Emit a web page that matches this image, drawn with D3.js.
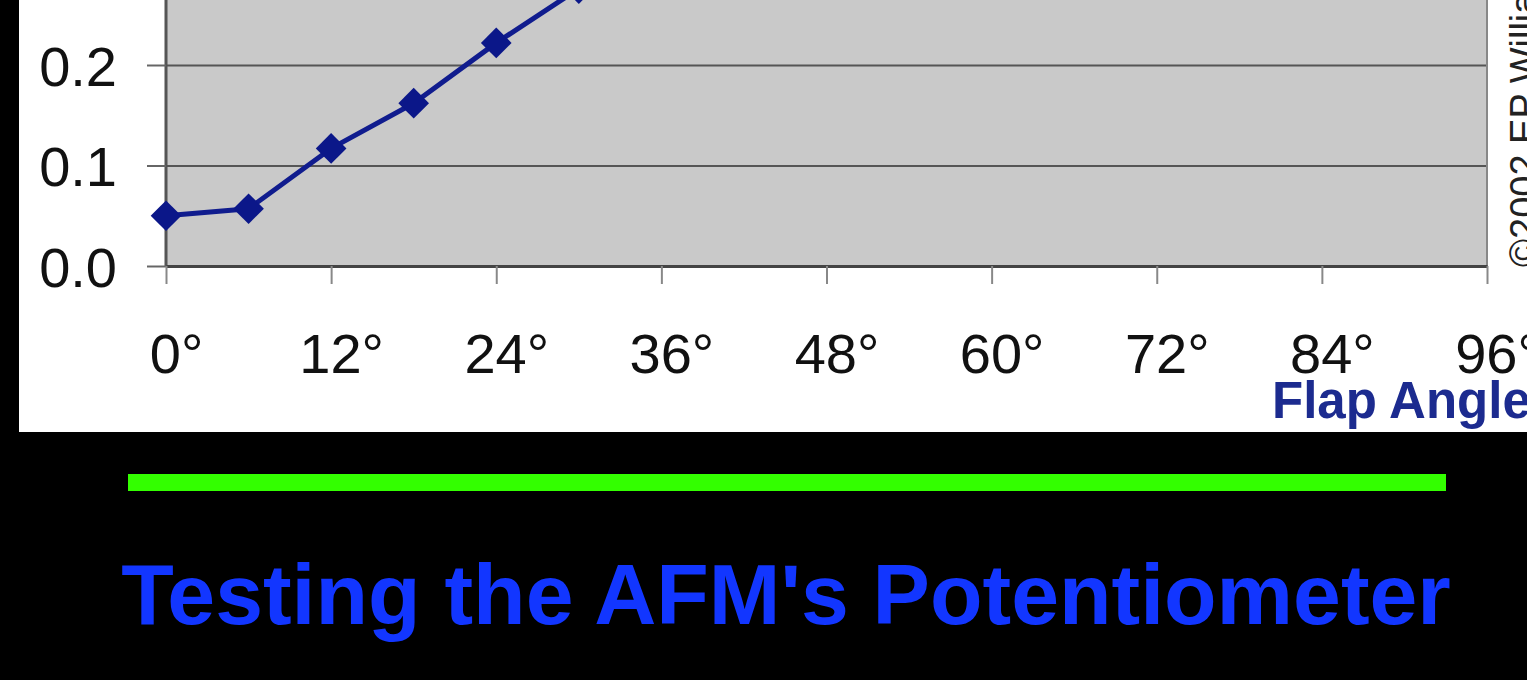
<!DOCTYPE html>
<html>
<head>
<meta charset="utf-8">
<script src="https://cdn.jsdelivr.net/npm/d3@7"></script>
<style>
  html, body { margin: 0; padding: 0; background: #000; }
  svg { display: block; font-family: "Liberation Sans", Arial, sans-serif; }
  .axis text { fill: #111; }
</style>
</head>
<body>
<div id="chart"></div>
<script>
const angles = [0, 6, 12, 18, 24, 30];
const readings = [0.05, 0.057, 0.117, 0.162, 0.222, 0.276];
const xTicks = [0, 12, 24, 36, 48, 60, 72, 84, 96];
const yTicks = [0, 0.1, 0.2];
const xTitle = "Flap Angle";
const credit = "\u00a92002  EP Williams";
const slideTitle = "Testing the AFM's Potentiometer";

const width = 1527, height = 680;
const plot = { left: 166, right: 1487, bottom: 266 };
const navy = "#101c8e";

const svg = d3.select("#chart").append("svg")
  .attr("width", width).attr("height", height);

svg.append("rect").attr("width", width).attr("height", height).attr("fill", "#000");
// white chart panel
svg.append("rect").attr("x", 19).attr("y", -10).attr("width", width).attr("height", 442).attr("fill", "#fff");

const x = d3.scaleLinear().domain([0, 96]).range([plot.left, plot.right]);
const y = d3.scaleLinear().domain([0, 0.1]).range([plot.bottom, plot.bottom - 100.5]);
const yTop = 0.3;

svg.append("rect")
  .attr("x", x(0)).attr("y", y(yTop))
  .attr("width", x(96) - x(0)).attr("height", y(0) - y(yTop))
  .attr("fill", "#c9c9c9");

// gridlines
const grid = svg.append("g")
  .attr("transform", `translate(${x(0)},0)`)
  .call(d3.axisLeft(y).tickValues(yTicks.slice(1)).tickSize(-(x(96) - x(0))).tickFormat(""));
grid.select(".domain").remove();
grid.selectAll("line").attr("stroke", "#555").attr("stroke-width", 2);

// right border of plot
svg.append("line")
  .attr("x1", x(96)).attr("x2", x(96)).attr("y1", y(yTop)).attr("y2", y(0))
  .attr("stroke", "#888").attr("stroke-width", 2);

// y axis
const yAxis = svg.append("g").attr("class", "axis")
  .attr("transform", `translate(${x(0)},0)`)
  .call(d3.axisLeft(y).tickValues(yTicks).tickSize(19).tickPadding(30).tickSizeOuter(0).tickFormat(d3.format(".1f")));
yAxis.select(".domain").attr("d", `M0,${y(yTop)}V${y(0)}`).attr("stroke", "#555").attr("stroke-width", 3);
yAxis.selectAll("line").attr("stroke", "#666").attr("stroke-width", 2);
yAxis.selectAll("text").attr("font-size", 56).attr("dy", "0.36em");

// x axis
const xAxis = svg.append("g").attr("class", "axis")
  .attr("transform", `translate(0,${y(0)})`)
  .call(d3.axisBottom(x).tickValues(xTicks).tickSize(18).tickPadding(49).tickSizeOuter(0).tickFormat((d) => d + "\u00b0"));
xAxis.select(".domain").attr("stroke", "#444").attr("stroke-width", 3);
xAxis.selectAll("line").attr("stroke", "#888").attr("stroke-width", 2);
xAxis.selectAll("text").attr("font-size", 56).attr("dx", 10);

svg.append("text")
  .attr("x", 1272).attr("y", 418)
  .attr("font-size", 51).attr("font-weight", "bold").attr("fill", "#1c2b8f")
  .text(xTitle);

svg.append("text")
  .attr("transform", `translate(1537,267) rotate(-90)`)
  .attr("font-size", 38).attr("fill", "#222")
  .text(credit);

// series
const points = angles.map((a, i) => ({ angle: a, value: readings[i] }));
const line = d3.line().x((d) => x(d.angle)).y((d) => y(d.value));
svg.append("path").datum(points)
  .attr("fill", "none").attr("stroke", navy).attr("stroke-width", 5)
  .attr("stroke-linejoin", "round").attr("d", line);

svg.append("g").selectAll("path").data(points).join("path")
  .attr("transform", (d) => `translate(${x(d.angle)},${y(d.value)}) rotate(45)`)
  .attr("d", d3.symbol(d3.symbolSquare, 470))
  .attr("fill", "#0b1789");

// slide decoration
svg.append("rect")
  .attr("x", 128).attr("y", 474).attr("width", 1318).attr("height", 17)
  .attr("fill", "#33ff00");

svg.append("text")
  .attr("x", 786).attr("y", 624).attr("text-anchor", "middle")
  .attr("font-size", 86).attr("font-weight", "bold").attr("fill", "#1236ff")
  .text(slideTitle);
</script>
</body>
</html>
